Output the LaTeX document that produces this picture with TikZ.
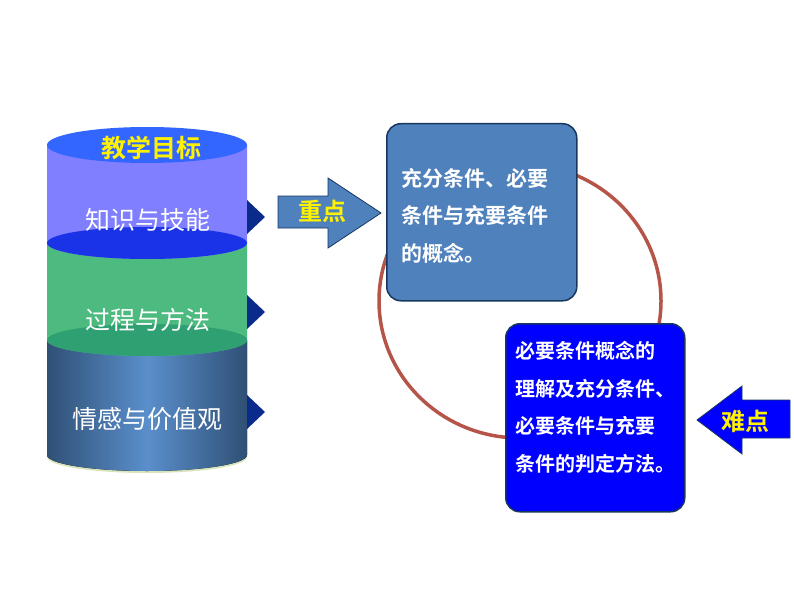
\documentclass[tikz,border=0pt]{standalone}
\usepackage{fontspec}
\newfontfamily\cjk{Noto Sans CJK SC}
\newfontfamily\cjkb{Noto Sans CJK SC Bold}
\definecolor{purp}{HTML}{7F7FFF}
\definecolor{topblue}{HTML}{3366FF}
\definecolor{midblue}{HTML}{1A33E6}
\definecolor{grn}{HTML}{4DBB7F}
\definecolor{dgrn}{HTML}{2FA071}
\definecolor{steel}{HTML}{2F5075}
\definecolor{steelL}{HTML}{5A8FCC}
\definecolor{boxA}{HTML}{4F81BD}
\definecolor{navy}{HTML}{17375E}
\definecolor{tri}{HTML}{0B2B8C}
\definecolor{ring}{HTML}{B5554A}
\definecolor{rim}{HTML}{D8E4BC}
\begin{document}
\begin{tikzpicture}[x=1pt,y=-1pt,
  cyltxt/.style={text=white,font=\cjk\fontsize{25}{25}\selectfont},
  boxtxt/.style={text=white,font=\cjkb\fontsize{21}{37.5}\selectfont,align=left,inner sep=0},
  tristyle/.style={fill=tri}]
\useasboundingbox (0,0) rectangle (794,596);
% ring
\draw[ring,line width=3.5pt] (520,301) ellipse (141 and 137);
% cylinder
\fill[rim] (147,457) ellipse (100 and 16);
\fill[left color=steel,right color=steel,middle color=steelL] (47,340) -- (47,455) arc[start angle=180,end angle=0,x radius=100,y radius=16] -- (247,340) -- cycle;
\fill[grn] (47,243) -- (47,340) arc[start angle=180,end angle=0,x radius=100,y radius=16] -- (247,243) -- cycle;
\fill[dgrn] (147,340) ellipse (100 and 16);
\fill[purp] (47,145) -- (47,243) arc[start angle=180,end angle=0,x radius=100,y radius=16] -- (247,243) -- (247,145) -- cycle;
\fill[midblue] (147,243) ellipse (100 and 16);
\fill[topblue] (147,145) ellipse (100 and 18);
% triangles
\foreach \yy/\nm in {217/t1,312/t2,412/t3}{
  \fill[tristyle] (247,\yy-17) -- (265,\yy) -- (247,\yy+17) -- cycle;
  \coordinate (\nm) at (265,\yy);}
\node[text=yellow,font=\cjkb\fontsize{25}{25}\selectfont] (goal) at (151,148) {教学目标};
\node[cyltxt] (k1) at (148,220) {知识与技能};
\node[cyltxt] (k2) at (148,320) {过程与方法};
\node[cyltxt] (k3) at (147,419) {情感与价值观};
% boxes
\node[draw=navy,line width=1.5pt,fill=boxA,rounded corners=14pt,minimum width=190pt,minimum height=177pt,anchor=north west,inner sep=0] (b1) at (386,123) {};
\node[boxtxt,anchor=north west] (b1t) at (401,168) {充分条件、必要\\条件与充要条件\\的概念。};
\node[draw=navy,line width=1.5pt,fill=blue,rounded corners=14pt,minimum width=179pt,minimum height=188pt,anchor=north west,inner sep=0] (b2) at (505,323) {};
\node[boxtxt,font=\cjkb\fontsize{20}{37.5}\selectfont,anchor=north west] (b2t) at (515,341) {必要条件概念的\\理解及充分条件、\\必要条件与充要\\条件的判定方法。};
% arrows
\fill[boxA,draw=navy,line width=0.8pt] (278,196) -- (328,196) -- (328,178) -- (381,213) -- (328,248) -- (328,228) -- (278,228) -- cycle;
\node[text=yellow,font=\cjkb\fontsize{24}{24}\selectfont] (zd) at (322,211) {重点};
\fill[blue,draw=navy,line width=0.8pt] (790,400) -- (742,400) -- (742,386) -- (697,420) -- (742,454) -- (742,438) -- (790,438) -- cycle;
\node[text=yellow,font=\cjkb\fontsize{24}{24}\selectfont] (nd) at (745,421) {难点};
\end{tikzpicture}
\end{document}
